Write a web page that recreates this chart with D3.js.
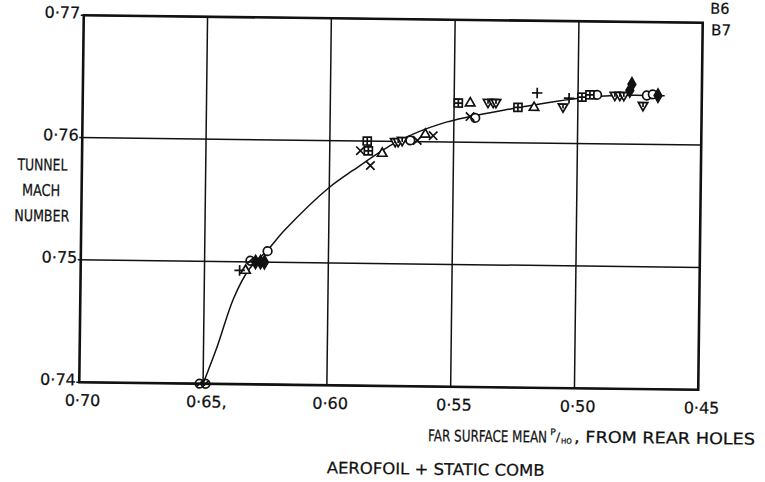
<!DOCTYPE html>
<html>
<head>
<meta charset="utf-8">
<script src="https://cdn.jsdelivr.net/npm/d3@7"></script>
<style>
  html, body { margin: 0; padding: 0; background: #fff; }
  svg { display: block; }
  text { font-family: "DejaVu Sans", "Liberation Sans", sans-serif; fill: #111; stroke: #111; stroke-width: 0.25; }
</style>
</head>
<body>
<svg id="chart" width="765" height="482"></svg>
<script>
// Axis ticks
const xTicks = [0.70, 0.65, 0.60, 0.55, 0.50, 0.45];
const xTickLabels = ["0·70", "0·65,", "0·60", "0·55", "0·50", "0·45"];
const yTicks = [0.74, 0.75, 0.76, 0.77];
const yTickLabels = ["0·74", "0·75", "0·76", "0·77"];

// Faired curve through the measurements: [p/Ho, Mach]
const fairedCurve = [
  [0.6500, 0.7400], [0.6444, 0.7431], [0.6381, 0.7470], [0.6320, 0.7494],
  [0.6246, 0.7510], [0.6175, 0.7527], [0.6004, 0.7561], [0.5904, 0.7576],
  [0.5726, 0.7600], [0.5550, 0.7615], [0.5262, 0.7628], [0.4960, 0.7638],
  [0.4800, 0.7640], [0.4650, 0.7640]
];

// Measured points, one array per symbol: [p/Ho, Mach]
const runCircle = [[0.6246, 0.7509], [0.5675, 0.7601], [0.5414, 0.7620], [0.4923, 0.7640], [0.4722, 0.7640], [0.4698, 0.7641]];
const runCircleSlash = [[0.6514, 0.7400], [0.6490, 0.7400], [0.6315, 0.7501]];
const runSquareCross = [[0.5849, 0.7600], [0.5844, 0.7592], [0.5483, 0.7632], [0.5242, 0.7629], [0.4984, 0.7638], [0.4952, 0.7640]];
const runTriangleUp = [[0.6334, 0.7493], [0.5788, 0.7590], [0.5615, 0.7606], [0.5435, 0.7632], [0.5177, 0.7629]];
const runTriangleDown = [[0.5736, 0.7600], [0.5724, 0.7600], [0.5708, 0.7601], [0.5363, 0.7633], [0.5342, 0.7633], [0.5331, 0.7633], [0.5060, 0.7630], [0.4851, 0.7640], [0.4831, 0.7640], [0.4815, 0.7640], [0.4737, 0.7632]];
const runTimes = [[0.5876, 0.7592], [0.5835, 0.7580], [0.5647, 0.7601], [0.5583, 0.7605], [0.5435, 0.7621]];
const runPlus = [[0.6358, 0.7493], [0.5165, 0.7641], [0.5036, 0.7637]];
const runFilled = [[0.6294, 0.7500], [0.6274, 0.7500], [0.6258, 0.7500], [0.4783, 0.7649], [0.4791, 0.7644], [0.4677, 0.7640]];

// ---- layout ----
const plot = { left: 81.5, top: 19, width: 619, height: 367 };
const svg = d3.select("#chart");
// the drawing sheet sits a little skewed
const root = svg.append("g").attr("transform", "rotate(0.7, 391, 202.5)");

const x = d3.scaleLinear().domain([0.70, 0.45]).range([plot.left, plot.left + plot.width]);
const y = d3.scaleLinear().domain([0.74, 0.77]).range([plot.top + plot.height, plot.top]);

// grid
root.append("g").selectAll("line").data(xTicks.slice(1, -1)).join("line")
  .attr("x1", d => x(d)).attr("x2", d => x(d))
  .attr("y1", plot.top).attr("y2", plot.top + plot.height)
  .attr("stroke", "#111").attr("stroke-width", 1.5);
root.append("g").selectAll("line").data(yTicks).join("line")
  .attr("x1", plot.left - 3).attr("x2", plot.left + plot.width)
  .attr("y1", d => y(d)).attr("y2", d => y(d))
  .attr("stroke", "#111").attr("stroke-width", 1.5);

// frame
root.append("rect")
  .attr("x", plot.left).attr("y", plot.top)
  .attr("width", plot.width).attr("height", plot.height)
  .attr("fill", "none").attr("stroke", "#111").attr("stroke-width", 2.6);

// axes (labels only; the frame and grid draw the lines)
const xAxis = d3.axisBottom(x).tickValues(xTicks)
  .tickFormat((d, i) => xTickLabels[i]).tickSize(0).tickPadding(0);
const gx = root.append("g").attr("transform", `translate(3, ${plot.top + plot.height + 18})`).call(xAxis);
gx.select(".domain").remove();
gx.selectAll("text").attr("font-size", 16).attr("dy", "0.35em")
  .style("font-family", "'DejaVu Sans', sans-serif").style("stroke", "#111").style("stroke-width", "0.25");

const yAxis = d3.axisLeft(y).tickValues(yTicks)
  .tickFormat((d, i) => yTickLabels[i]).tickSize(0).tickPadding(0);
const gy = root.append("g").attr("transform", `translate(${plot.left - 3.5}, -3)`).call(yAxis);
gy.select(".domain").remove();
gy.selectAll("text").attr("font-size", 16).attr("dy", "0.35em")
  .style("font-family", "'DejaVu Sans', sans-serif").style("stroke", "#111").style("stroke-width", "0.25");

// faired curve
const line = d3.line().x(d => x(d[0])).y(d => y(d[1])).curve(d3.curveCatmullRom.alpha(0.5));
root.append("path").datum(fairedCurve).attr("d", line)
  .attr("fill", "none").attr("stroke", "#111").attr("stroke-width", 1.5);

// custom symbol types
const symbolSquareCross = {
  draw(ctx, size) {
    const h = Math.sqrt(size) / 2;
    ctx.moveTo(-h, -h); ctx.lineTo(h, -h); ctx.lineTo(h, h); ctx.lineTo(-h, h); ctx.closePath();
    ctx.moveTo(-h, 0); ctx.lineTo(h, 0);
    ctx.moveTo(0, -h); ctx.lineTo(0, h);
  }
};
const symbolTriangleDown = {
  draw(ctx, size) {
    const r = Math.sqrt(size) * 0.6824, t = r / 2, u = r * Math.sqrt(3) / 2;
    ctx.moveTo(0, r); ctx.lineTo(-u, -t); ctx.lineTo(u, -t); ctx.closePath();
    ctx.moveTo(0, -t); ctx.lineTo(0, t * 0.6);
  }
};
const symbolCircleSlash = {
  draw(ctx, size) {
    const r = Math.sqrt(size / Math.PI);
    ctx.moveTo(r, 0); ctx.arc(0, 0, r, 0, 2 * Math.PI);
    const k = r * 0.75;
    ctx.moveTo(-k, k); ctx.lineTo(k, -k);
  }
};

const groups = [
  { data: runCircle, type: d3.symbolCircle, size: 58, fill: "#fff" },
  { data: runCircleSlash, type: symbolCircleSlash, size: 58, fill: "none" },
  { data: runSquareCross, type: symbolSquareCross, size: 64, fill: "#fff" },
  { data: runTriangleUp, type: d3.symbolTriangle2, size: 64, fill: "#fff" },
  { data: runTriangleDown, type: symbolTriangleDown, size: 64, fill: "#fff" },
  { data: runTimes, type: d3.symbolTimes, size: 48, fill: "none" },
  { data: runPlus, type: d3.symbolPlus, size: 38, fill: "none" },
  { data: runFilled, type: d3.symbolDiamond, size: 50, fill: "#111" }
];

const marks = root.append("g");
groups.forEach(gp => {
  const sym = d3.symbol().type(gp.type).size(gp.size);
  marks.append("g").selectAll("path").data(gp.data).join("path")
    .attr("transform", d => `translate(${x(d[0])}, ${y(d[1])})`)
    .attr("d", sym)
    .attr("fill", gp.fill)
    .attr("stroke", "#111").attr("stroke-width", 1.7);
});

// Condensed lettering: draw the text, measure it, then squeeze it horizontally
// so that it spans `width` pixels starting at (x0, yc) (anchor "start" or "middle").
function narrowText(parent, str, x0, yc, width, size, anchor) {
  const g = parent.append("g");
  const t = g.append("text").attr("font-size", size).attr("dy", "0.35em").text(str);
  const len = t.node().getComputedTextLength();
  const k = width / len;
  if (anchor === "middle") t.attr("text-anchor", "middle");
  g.attr("transform", `translate(${x0}, ${yc}) scale(${k}, 1)`);
  return t;
}

// vertical axis title
narrowText(root, "TUNNEL", 42, 169, 50, 16, "middle");
narrowText(root, "MACH", 41, 194.5, 38, 16, "middle");
narrowText(root, "NUMBER", 42, 220, 55, 16, "middle");

// horizontal axis title
narrowText(root, "FAR SURFACE  MEAN", 431, 435, 119, 16, "start");
// p / Ho written as a small slanted fraction
root.append("text").attr("x", 553).attr("y", 430).attr("dy", "0.35em").attr("font-size", 9).text("P");
root.append("text").attr("x", 559).attr("y", 435).attr("dy", "0.35em").attr("font-size", 12).text("/");
root.append("text").attr("x", 564).attr("y", 439).attr("dy", "0.35em").attr("font-size", 7).text("HO");
narrowText(root, ", FROM REAR HOLES", 577, 434.5, 181, 16, "start");

narrowText(root, "AEROFOIL  +  STATIC  COMB", 330, 468.5, 218, 16, "start");

// sheet references at the top right
narrowText(root, "B6", 708, 4.5, 19, 15, "start");
narrowText(root, "B7", 709, 26, 20, 15, "start");
</script>
</body>
</html>
